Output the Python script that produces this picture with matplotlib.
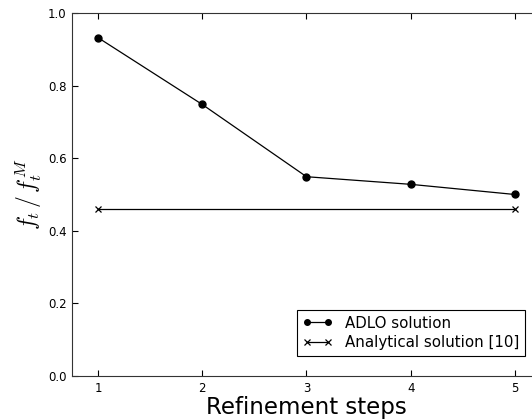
import matplotlib
matplotlib.use("Agg")
import matplotlib.pyplot as plt

steps = [1, 2, 3, 4, 5]
adlo = [0.932, 0.748, 0.549, 0.528, 0.500]
anal_x = [1, 5]
anal_y = [0.46, 0.46]

plt.rcParams['mathtext.fontset'] = 'cm'
fig = plt.figure(figsize=(5.32, 4.19), dpi=100)
ax = fig.add_axes([72/532, 1 - 376/419, (541-72)/532, (376-13)/419])
ax.plot(steps, adlo, '-', color='black', marker='o', markersize=5, linewidth=0.9, label='ADLO solution')
ax.plot(anal_x, anal_y, '-', color='black', marker='x', markersize=5, markeredgewidth=0.9, linewidth=0.9, label='Analytical solution [10]')
ax.set_xlim(0.75, 5.25)
ax.set_ylim(0.0, 1.0)
ax.set_xticks(steps)
ax.set_yticks([0.0, 0.2, 0.4, 0.6, 0.8, 1.0])
ax.tick_params(direction='in', top=True, right=True, labelsize=8.5, length=4, width=0.8, pad=4)
for s in ax.spines.values():
    s.set_color('#333333')
ax.set_xlabel('Refinement steps', fontsize=16.5, labelpad=1)
ax.set_ylabel(r'$f_t\,/\,f_t^M$', fontsize=17, labelpad=3)
leg = ax.legend(loc='lower right', bbox_to_anchor=(525/532, 1 - 356/419), bbox_transform=fig.transFigure,
                numpoints=2, fontsize=10.8, fancybox=False, framealpha=1, edgecolor='black',
                handlelength=2.0, borderaxespad=0, markerscale=0.8, labelspacing=0.3)
leg.get_frame().set_linewidth(0.8)
fig.savefig('out.png', dpi=100)
